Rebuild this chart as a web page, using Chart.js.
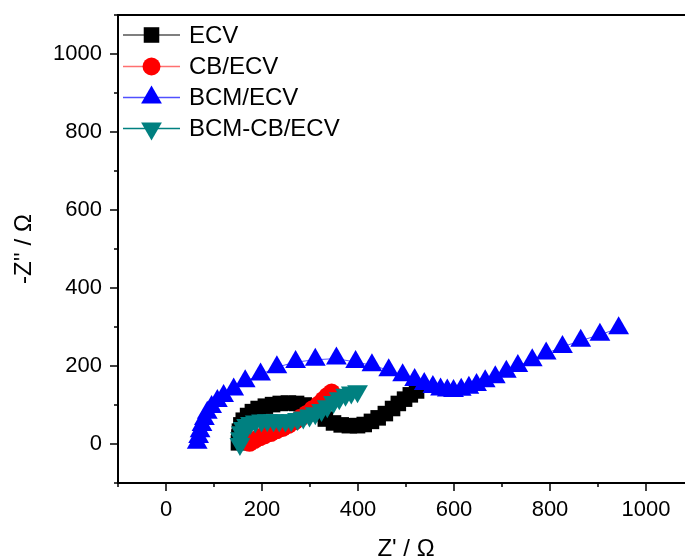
<!DOCTYPE html>
<html lang="en">
<head>
<meta charset="UTF-8">
<title>Nyquist plot</title>
<script src="https://cdn.jsdelivr.net/npm/chart.js@4.4.0/dist/chart.umd.min.js"></script>
<style>
  html, body { margin: 0; padding: 0; background: #fff; overflow: hidden; }
  canvas { display: block; }
</style>
</head>
<body>
<canvas id="chart" width="720" height="580"></canvas>
<script>
// Z' (x) and -Z'' (y) in ohm
var ecvX = [151, 152, 153, 156, 161, 170, 180, 192, 207, 222, 238, 255, 272, 288, 303, 317, 332, 349, 365, 382, 399, 413, 428, 442, 457, 472, 484, 497, 509, 522];
var ecvY = [3, 18, 33, 49, 61, 73, 83, 91, 97, 101, 104, 105, 104, 100, 92, 78, 64, 54, 49, 47, 47, 50, 58, 67, 78, 91, 104, 115, 126, 136];

var cbX = [174, 184, 195, 205, 218, 230, 243, 255, 268, 280, 293, 305, 318, 328, 336, 345];
var cbY = [3, 10, 17, 22, 28, 35, 41, 49, 58, 67, 77, 89, 101, 113, 123, 132];

var bcmX = [65, 68, 71, 75, 80, 86, 95, 107, 120, 141, 165, 197, 231, 270, 311, 355, 395, 429, 464, 493, 518, 538, 556, 572, 586, 599, 615, 631, 647, 665, 686, 709, 733, 763, 792, 826, 864, 904, 943];
var bcmY = [3, 18, 33, 49, 64, 80, 95, 110, 123, 140, 161, 178, 197, 210, 216, 219, 210, 202, 189, 176, 164, 154, 146, 140, 137, 136, 139, 144, 151, 161, 171, 185, 200, 215, 232, 249, 265, 280, 297];

var bcmCbX = [154, 155, 157, 161, 168, 176, 186, 199, 211, 224, 236, 249, 261, 274, 286, 299, 311, 324, 336, 349, 361, 374, 386, 399];
var bcmCbY = [0, 15, 30, 41, 49, 54, 58, 60, 61, 61, 60, 60, 61, 64, 68, 73, 79, 87, 97, 108, 117, 126, 132, 135];

var names = ["ECV", "CB/ECV", "BCM/ECV", "BCM-CB/ECV"];
var colors = ["#000000", "#ff0000", "#0000ff", "#008080"];
var lineColors = ["#555555", "#ff7070", "#5050ff", "#008080"];
var styles = ["rect", "circle", "triangle", "triangle"];
var radii = [11, 9, 12, 12];
var rotations = [0, 0, 0, 180];

var FONT = "'Liberation Sans', Arial, sans-serif";

function toPoints(xs, ys) {
    return xs.map(function (x, i) { return { x: x, y: ys[i] }; });
}

var series = [toPoints(ecvX, ecvY), toPoints(cbX, cbY), toPoints(bcmX, bcmY), toPoints(bcmCbX, bcmCbY)];

var datasets = series.map(function (pts, i) {
    return {
        label: names[i],
        data: pts,
        showLine: true,
        borderColor: lineColors[i],
        borderWidth: 1,
        backgroundColor: colors[i],
        pointBackgroundColor: colors[i],
        pointBorderWidth: 0,
        pointStyle: styles[i],
        pointRadius: radii[i],
        pointRotation: rotations[i],
        order: 4 - i // first series at the bottom, last one on top
    };
});

// only every other tick gets a number
function majorLabel(v) {
    return (v % 200 === 0 && v >= 0 && v <= 1000) ? v : "";
}

// box, outward ticks and the legend, Origin style
var framePlugin = {
    id: "frame",
    afterDraw: function (chart) {
        var ctx = chart.ctx, a = chart.chartArea;
        var xs = chart.scales.x, ys = chart.scales.y;
        ctx.save();
        ctx.strokeStyle = "#000";
        ctx.lineWidth = 2;
        ctx.strokeRect(a.left, a.top, a.right - a.left, a.bottom - a.top);

        ctx.lineWidth = 1.5;
        ctx.beginPath();
        xs.ticks.forEach(function (t) {
            var px = xs.getPixelForValue(t.value);
            var len = t.value % 200 === 0 ? 8 : 4;
            ctx.moveTo(px, a.bottom);
            ctx.lineTo(px, a.bottom + len);
        });
        ys.ticks.forEach(function (t) {
            var py = ys.getPixelForValue(t.value);
            var len = t.value % 200 === 0 ? 8 : 4;
            ctx.moveTo(a.left, py);
            ctx.lineTo(a.left - len, py);
        });
        ctx.stroke();

        // legend
        var rowY = [35, 66.5, 97.5, 128.5];
        ctx.font = "24px " + FONT;
        ctx.textBaseline = "middle";
        ctx.textAlign = "left";
        names.forEach(function (n, i) {
            var y = rowY[i];
            ctx.strokeStyle = lineColors[i];
            ctx.lineWidth = 1.5;
            ctx.beginPath();
            ctx.moveTo(123, y);
            ctx.lineTo(180, y);
            ctx.stroke();
            ctx.fillStyle = colors[i];
            Chart.helpers.drawPoint(ctx, {
                pointStyle: styles[i], radius: radii[i], rotation: rotations[i], borderWidth: 0
            }, 151.5, y);
            ctx.fillStyle = "#000";
            ctx.fillText(n, 189, y + 1);
        });
        ctx.restore();
    }
};

var ctx = document.getElementById("chart").getContext("2d");
var chart = new Chart(ctx, {
    type: "scatter",
    data: { datasets: datasets },
    options: {
        responsive: false,
        animation: false,
        layout: { padding: { top: 15, right: 26, left: 0, bottom: 0 } },
        plugins: { legend: { display: false }, tooltip: { enabled: false } },
        scales: {
            x: {
                type: "linear",
                min: -100,
                max: 1100,
                afterFit: function (s) { s.height = 97; s.paddingLeft = 0; s.paddingRight = 0; },
                ticks: {
                    stepSize: 100, autoSkip: false, maxRotation: 0, padding: 6,
                    color: "#000", font: { family: FONT, size: 22 },
                    callback: majorLabel
                },
                grid: { display: true, drawOnChartArea: false, tickLength: 8, tickColor: "rgba(0,0,0,0)" },
                border: { display: false },
                title: {
                    display: true, text: "Z' / Ω", color: "#000",
                    font: { family: FONT, size: 24 }, padding: { top: 0, bottom: 16 }
                }
            },
            y: {
                type: "linear",
                min: -100,
                max: 1100,
                afterFit: function (s) { s.width = 118; s.paddingTop = 0; s.paddingBottom = 0; },
                ticks: {
                    stepSize: 100, autoSkip: false, padding: 8,
                    color: "#000", font: { family: FONT, size: 22 },
                    callback: majorLabel
                },
                grid: { display: true, drawOnChartArea: false, tickLength: 8, tickColor: "rgba(0,0,0,0)" },
                border: { display: false },
                title: {
                    display: true, text: "-Z'' / Ω", color: "#000",
                    font: { family: FONT, size: 24 }, padding: { top: 10, bottom: 0 }
                }
            }
        }
    },
    plugins: [framePlugin]
});
</script>
</body>
</html>
